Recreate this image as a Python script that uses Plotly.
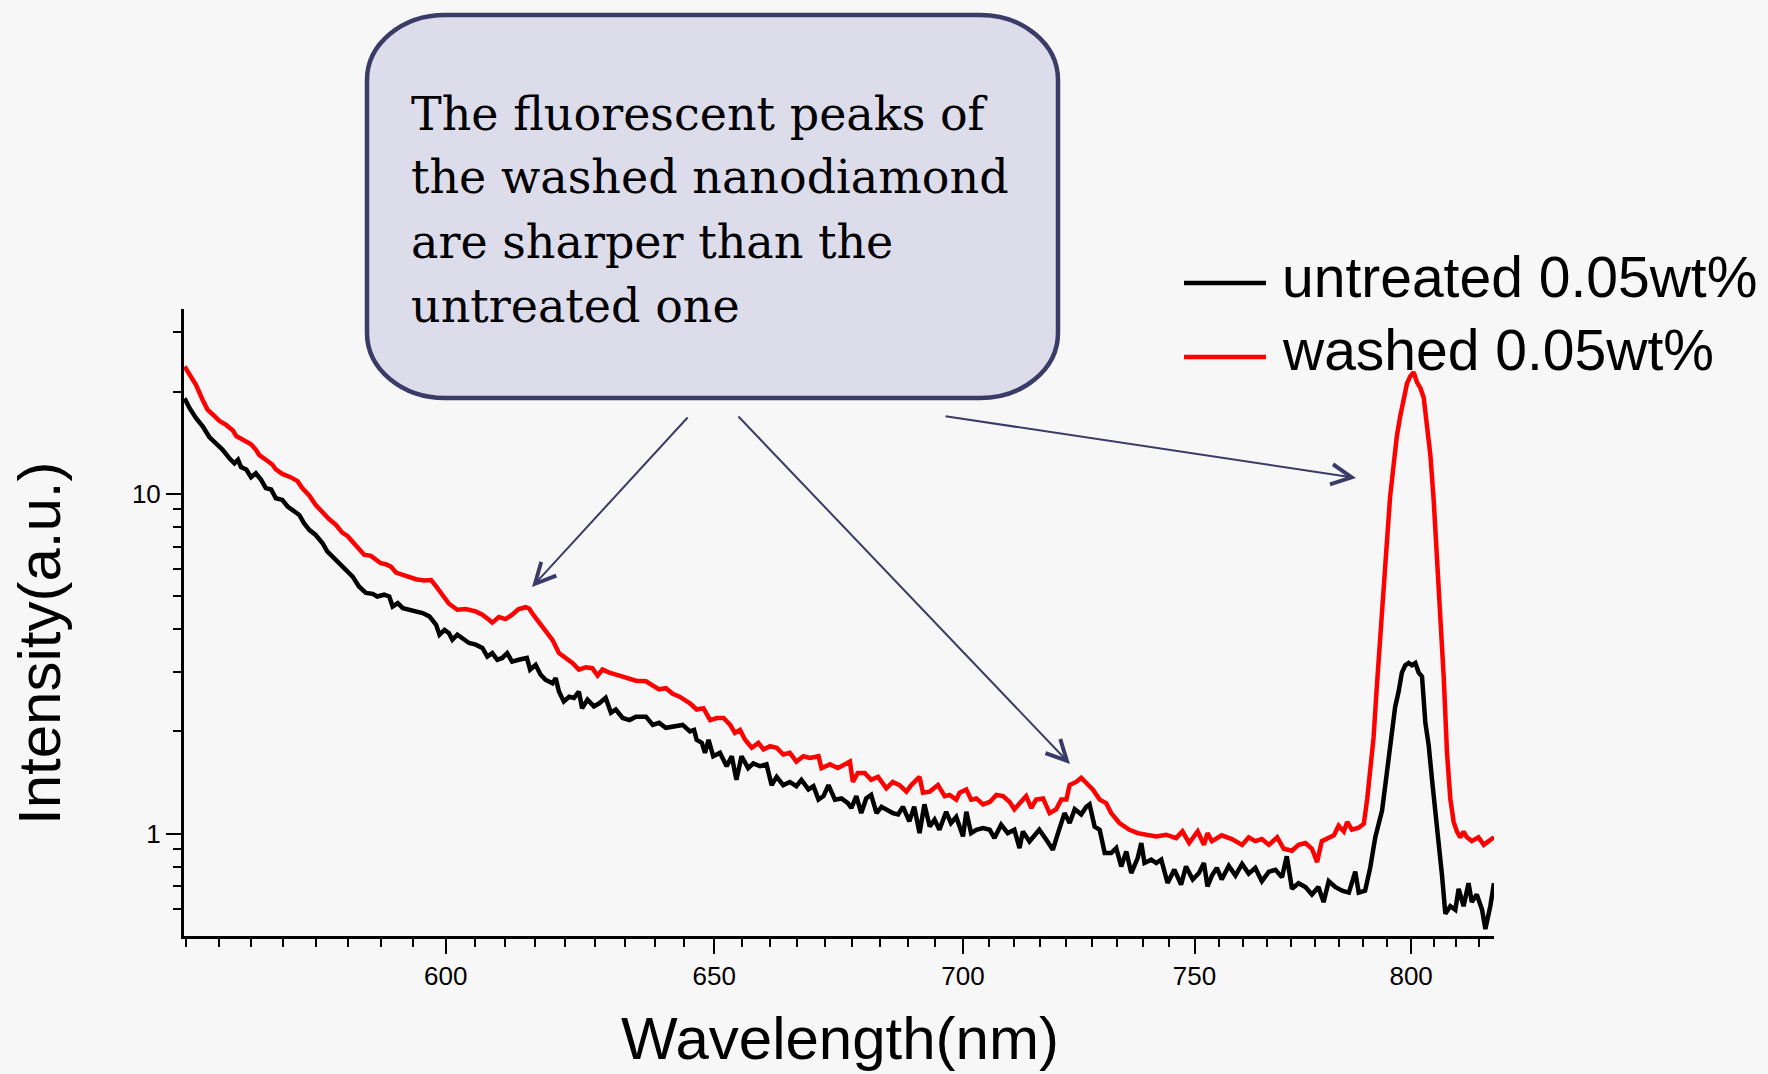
import math
import plotly.graph_objects as go

# ---------------- data ----------------
untreated_nm_a = [555.1, 555.9, 557.0, 558.1, 559.2, 560.3, 561.4, 562.6, 563.4, 564.0,
                  564.5, 565.4, 566.2, 567.0, 567.9, 568.7, 569.6, 570.4, 571.5, 572.4,
                  573.2, 574.4, 575.2, 576.1, 577.2, 578.4, 579.2, 580.1, 581.2, 582.4,
                  583.6, 584.7, 585.9, 587.1, 587.9, 589.1, 590.0, 590.6, 591.5, 592.4,
                  593.5, 594.7, 595.9, 597.1, 598.3, 598.9, 599.8, 600.6, 601.2, 602.1,
                  603.0, 604.2, 605.4, 606.6, 607.5, 608.4, 609.3, 610.2, 611.1, 612.0,
                  613.2, 614.7, 615.3, 616.3, 617.2, 618.1, 619.4, 620.0, 620.6, 621.5,
                  622.5, 623.4, 624.3, 624.9, 625.9, 627.1, 628.1, 629.3, 630.3, 631.2,
                  632.5, 633.8, 635.0, 636.9, 638.2, 639.4, 640.7, 642.0, 643.9]
untreated_int_a = [19.1, 17.9, 16.7, 15.8, 14.7, 14.1, 13.5, 12.7, 12.3, 12.6,
                   12.0, 11.8, 11.2, 11.5, 11.0, 10.4, 10.3, 9.71, 9.60, 9.18,
                   8.97, 8.67, 8.20, 7.84, 7.57, 7.16, 6.77, 6.54, 6.25, 5.98,
                   5.71, 5.34, 5.11, 5.08, 4.99, 5.05, 4.99, 4.66, 4.77, 4.61,
                   4.56, 4.51, 4.46, 4.36, 4.12, 3.85, 3.98, 3.89, 3.72, 3.85,
                   3.76, 3.64, 3.60, 3.52, 3.32, 3.40, 3.25, 3.29, 3.40, 3.21,
                   3.25, 3.29, 3.04, 3.14, 2.94, 2.84, 2.77, 2.87, 2.62, 2.45,
                   2.53, 2.51, 2.62, 2.34, 2.48, 2.37, 2.42, 2.51, 2.27, 2.32,
                   2.19, 2.16, 2.21, 2.21, 2.09, 2.12, 2.05, 2.07, 2.09]

untreated_nm_b = [645.3, 646.1, 646.6, 647.6, 648.2, 648.9, 649.8, 651.1, 652.4, 653.4,
                  654.3, 655.3, 656.6, 657.6, 658.9, 660.2, 661.2, 662.2, 663.5, 664.8,
                  666.1, 667.1, 668.5, 669.5, 670.5, 671.5, 672.5, 673.8, 675.1, 676.4,
                  677.1, 678.1, 679.1, 680.1, 681.1, 682.2, 683.2, 684.2, 685.5, 686.6,
                  687.6, 688.9, 689.9, 691.0, 692.0, 693.1, 694.1, 695.1, 696.5, 697.5,
                  698.6, 700.0, 700.7, 701.7, 702.8, 704.2, 705.6, 706.6, 708.0, 709.4,
                  710.8, 711.9, 712.6, 714.0, 715.0, 716.1, 717.6, 719.0, 720.1, 721.5,
                  722.6, 723.7, 725.1, 726.2, 726.9, 728.0, 729.1, 730.2, 731.6, 732.7,
                  733.8, 734.9, 736.0, 737.4, 738.2, 738.9, 740.4, 741.5, 742.6, 744.0,
                  745.5, 747.0, 748.1, 749.6, 751.0, 752.1, 752.9]
untreated_int_b = [2.00, 2.02, 1.89, 1.85, 1.73, 1.89, 1.69, 1.73, 1.58, 1.69,
                   1.44, 1.69, 1.56, 1.61, 1.58, 1.60, 1.39, 1.47, 1.39, 1.42,
                   1.38, 1.44, 1.35, 1.38, 1.26, 1.29, 1.39, 1.26, 1.27, 1.23,
                   1.19, 1.29, 1.15, 1.27, 1.30, 1.15, 1.20, 1.18, 1.15, 1.14,
                   1.20, 1.087, 1.20, 1.004, 1.22, 1.05, 1.10, 1.027, 1.16, 1.075,
                   1.12, 0.982, 1.16, 1.004, 1.027, 1.039, 1.027, 0.971, 1.063, 1.004,
                   1.027, 0.907, 1.016, 0.949, 0.982, 1.027, 0.96, 0.897, 1.004, 1.15,
                   1.075, 1.18, 1.14, 1.20, 1.22, 1.05, 1.027, 0.877, 0.877, 0.907,
                   0.801, 0.887, 0.766, 0.848, 0.939, 0.820, 0.839, 0.820, 0.839, 0.716,
                   0.784, 0.708, 0.801, 0.733, 0.766, 0.820, 0.700]

untreated_nm_c = [753.9, 755.0, 756.1, 757.7, 759.2, 760.7, 762.2, 763.7, 765.2, 766.8,
                  768.3, 769.8, 770.9, 772.1, 773.6, 775.2, 776.7, 778.2, 779.4, 780.6,
                  782.1, 783.7, 785.3, 786.8, 787.6, 789.1, 790.3, 791.5, 792.3, 793.1,
                  793.9, 794.6, 795.4, 796.2, 797.0, 797.8, 798.6, 799.4, 800.2, 801.0,
                  801.8, 802.6, 803.4, 804.2, 805.0, 805.8, 806.6, 807.4, 808.2, 809.4,
                  810.6, 811.4, 812.6, 813.8, 814.6, 815.8, 817.1, 817.9, 819.1, 820.0]
untreated_int_c = [0.753, 0.793, 0.734, 0.804, 0.753, 0.815, 0.763, 0.793, 0.725, 0.773,
                   0.783, 0.744, 0.858, 0.688, 0.715, 0.697, 0.662, 0.697, 0.629, 0.725,
                   0.697, 0.680, 0.671, 0.773, 0.671, 0.680, 0.793, 0.976, 1.055, 1.17,
                   1.40, 1.64, 2.02, 2.36, 2.61, 2.98, 3.13, 3.18, 3.13, 3.18,
                   2.98, 2.90, 2.12, 1.82, 1.44, 1.17, 0.927, 0.753, 0.581, 0.612,
                   0.597, 0.688, 0.612, 0.715, 0.629, 0.662, 0.597, 0.524, 0.612, 0.715]

washed_nm_a = [555.1, 555.9, 557.0, 558.1, 558.9, 559.8, 560.9, 562.0, 563.1, 563.7,
               564.8, 566.2, 567.0, 567.6, 568.7, 569.8, 570.4, 571.5, 572.9, 574.1,
               574.9, 576.1, 577.2, 578.4, 579.5, 580.7, 581.8, 582.7, 583.6, 584.7,
               585.6, 586.8, 587.6, 588.5, 589.4, 590.3, 591.2, 592.4, 593.5, 594.7,
               596.2, 597.4, 598.3, 599.5, 600.6, 602.1, 603.6, 605.4, 606.6, 607.8,
               608.4, 609.6, 610.8, 612.0, 613.2, 614.5, 615.1, 616.0, 616.6, 617.2,
               618.4, 619.4, 620.6, 621.8, 623.1, 624.3, 625.6, 626.8, 627.8, 628.7,
               630.0, 632.5, 635.0, 636.9, 638.2, 639.4, 640.7, 642.0, 643.3, 644.6]
washed_int_a = [23.7, 22.4, 20.9, 18.9, 17.7, 17.1, 16.4, 15.96, 15.4, 14.8,
                14.4, 14.0, 13.5, 13.0, 12.6, 12.2, 11.8, 11.45, 11.2, 10.9,
                10.4, 9.89, 9.28, 8.81, 8.43, 8.11, 7.69, 7.52, 7.24, 6.92,
                6.62, 6.57, 6.40, 6.25, 6.21, 6.11, 5.87, 5.78, 5.71, 5.61,
                5.56, 5.58, 5.34, 4.99, 4.75, 4.56, 4.58, 4.51, 4.41, 4.26,
                4.18, 4.34, 4.28, 4.41, 4.58, 4.64, 4.60, 4.38, 4.26, 4.12,
                3.94, 3.72, 3.40, 3.29, 3.18, 3.04, 3.09, 3.07, 2.92, 3.04,
                2.98, 2.90, 2.82, 2.81, 2.72, 2.66, 2.68, 2.58, 2.53, 2.45]

washed_nm_b = [645.3, 646.6, 647.9, 649.2, 650.5, 651.8, 653.1, 654.0, 655.0, 656.0,
               657.3, 658.6, 659.6, 660.9, 662.2, 663.5, 664.8, 666.1, 667.5, 668.8,
               670.5, 671.1, 672.8, 674.4, 676.1, 676.8, 677.4, 678.4, 679.8, 681.1,
               682.5, 684.2, 685.5, 686.9, 688.3, 689.3, 691.0, 691.7, 693.1, 694.8,
               696.2, 697.2, 698.6, 699.3, 700.7, 701.7, 702.8, 704.2, 705.6, 707.0,
               708.4, 709.8, 710.8, 711.9, 713.3, 714.4, 715.4, 716.9, 718.3, 719.7,
               720.8, 721.9, 722.6, 724.0, 725.1, 726.2, 727.6, 729.1, 730.5, 731.6,
               733.4, 735.6, 737.4, 739.3, 741.5, 743.7, 745.9, 747.3, 748.8, 750.7,
               752.1, 752.9]
washed_int_b = [2.42, 2.32, 2.34, 2.16, 2.19, 2.19, 2.09, 1.98, 2.02, 1.89,
                1.79, 1.85, 1.77, 1.81, 1.79, 1.71, 1.73, 1.63, 1.69, 1.67,
                1.69, 1.56, 1.60, 1.56, 1.60, 1.63, 1.42, 1.51, 1.51, 1.44,
                1.47, 1.36, 1.42, 1.39, 1.33, 1.39, 1.47, 1.32, 1.33, 1.39,
                1.29, 1.30, 1.26, 1.32, 1.35, 1.26, 1.27, 1.22, 1.24, 1.30,
                1.29, 1.24, 1.18, 1.23, 1.29, 1.19, 1.26, 1.27, 1.15, 1.18,
                1.26, 1.26, 1.39, 1.42, 1.46, 1.41, 1.35, 1.26, 1.23, 1.15,
                1.075, 1.027, 1.004, 0.993, 0.982, 0.993, 0.971, 1.016, 0.939, 1.016,
                0.928, 1.004]

washed_nm_c = [753.9, 756.1, 758.4, 760.7, 762.2, 763.7, 765.2, 766.8, 768.7, 770.2,
               772.1, 773.6, 775.2, 776.7, 777.9, 779.0, 780.6, 781.8, 782.9, 784.1,
               784.9, 786.0, 787.6, 788.8, 789.6, 790.3, 791.1, 791.9, 792.7, 793.5,
               794.3, 795.0, 795.8, 796.6, 797.4, 798.2, 799.0, 799.8, 800.6, 801.4,
               802.2, 803.0, 803.8, 804.6, 805.4, 806.2, 807.0, 807.8, 808.6, 809.4,
               810.2, 811.0, 811.8, 812.6, 813.4, 814.6, 816.2, 817.5, 818.7, 820.0]
washed_int_c = [0.951, 0.989, 0.964, 0.927, 0.976, 0.951, 0.964, 0.927, 0.976, 0.903,
                0.891, 0.927, 0.939, 0.903, 0.825, 0.951, 0.976, 0.989, 1.055, 1.015,
                1.083, 1.028, 1.041, 1.069, 1.265, 1.56, 1.92, 2.75, 3.96, 5.69,
                7.37, 9.80, 12.4, 14.8, 16.9, 19.2, 21.1, 22.2, 22.8, 21.3,
                20.5, 19.2, 15.6, 13.0, 9.55, 6.65, 4.62, 2.90, 1.73, 1.265,
                1.083, 1.015, 0.976, 1.015, 0.976, 0.951, 0.976, 0.927, 0.951, 0.976]

series_names = ["untreated 0.05wt%", "washed 0.05wt%"]
x_major_ticks = [600, 650, 700, 750, 800]
x_tick_labels = ["600", "650", "700", "750", "800"]
y_major_ticks = [1, 10]
y_tick_labels = ["1", "10"]
y_minor_ticks = [0.6, 0.7, 0.8, 0.9, 2, 3, 4, 5, 6, 7, 8, 9, 20, 30]
callout_lines = ["The fluorescent peaks of", "the washed nanodiamond",
                 "are sharper than the", "untreated one"]


def joined(parts_x, parts_y):
    xs, ys = [], []
    for a, b in zip(parts_x, parts_y):
        n = min(len(a), len(b))
        xs += a[:n]
        ys += b[:n]
    return xs, ys


untreated_nm, untreated_int = joined([untreated_nm_a, untreated_nm_b, untreated_nm_c],
                                     [untreated_int_a, untreated_int_b, untreated_int_c])
washed_nm, washed_int = joined([washed_nm_a, washed_nm_b, washed_nm_c],
                               [washed_int_a, washed_int_b, washed_int_c])

# ---------------- layout geometry ----------------
W, H = 1768, 1074
L, R, T, B = 184, 1494, 309, 936


def px(x):
    return (x - L) / (R - L)


def py(y):
    return (B - y) / (B - T)


BG = "#f7f7f7"
NAVY = "#3b3b68"
SANS = "Liberation Sans, Arial, sans-serif"

fig = go.Figure()
fig.add_trace(go.Scatter(x=untreated_nm, y=untreated_int, mode="lines",
                         line=dict(color="#000000", width=4.5), name=series_names[0],
                         showlegend=False))
fig.add_trace(go.Scatter(x=washed_nm, y=washed_int, mode="lines",
                         line=dict(color="#ff0000", width=4.5), name=series_names[1],
                         showlegend=False))

# minor x ticks: 8 per major interval, evenly spaced on the log scale
minor_x = []
majors = [550] + x_major_ticks + [850]
for a, b in zip(majors[:-1], majors[1:]):
    for k in range(1, 9):
        minor_x.append(a * (b / a) ** (k / 9))

fig.update_xaxes(type="log", range=[math.log10(555), math.log10(820)],
                 tickmode="array", tickvals=x_major_ticks, ticktext=x_tick_labels,
                 ticks="outside", ticklen=15, tickwidth=2, tickcolor="black",
                 showline=True, linewidth=3, linecolor="black",
                 showgrid=False, zeroline=False,
                 tickfont=dict(family=SANS, size=26, color="black"),
                 minor=dict(tickmode="array", tickvals=minor_x, ticks="outside",
                            ticklen=8, tickwidth=2, tickcolor="black", showgrid=False))
fig.update_yaxes(type="log", range=[math.log10(0.5), math.log10(35)],
                 tickmode="array", tickvals=y_major_ticks, ticktext=y_tick_labels,
                 ticks="outside", ticklen=15, tickwidth=2, tickcolor="black",
                 showline=True, linewidth=3, linecolor="black",
                 showgrid=False, zeroline=False,
                 tickfont=dict(family=SANS, size=26, color="black"),
                 minor=dict(tickmode="array", tickvals=y_minor_ticks, ticks="outside",
                            ticklen=8, tickwidth=2, tickcolor="black", showgrid=False))

# rounded callout box
x0, x1 = px(367), px(1058)
yt, yb = py(15), py(398)
rx, ry = 78 / (R - L), 65 / (B - T)
k = 0.5523
path = (f"M {x0+rx},{yt} L {x1-rx},{yt} "
        f"C {x1-rx+k*rx},{yt} {x1},{yt-ry+k*ry} {x1},{yt-ry} "
        f"L {x1},{yb+ry} "
        f"C {x1},{yb+ry-k*ry} {x1-rx+k*rx},{yb} {x1-rx},{yb} "
        f"L {x0+rx},{yb} "
        f"C {x0+rx-k*rx},{yb} {x0},{yb+ry-k*ry} {x0},{yb+ry} "
        f"L {x0},{yt-ry} "
        f"C {x0},{yt-ry+k*ry} {x0+rx-k*rx},{yt} {x0+rx},{yt} Z")
shapes = [dict(type="path", xref="paper", yref="paper", path=path,
               fillcolor="#dcdcea", line=dict(color=NAVY, width=4.5), layer="above")]

# legend samples
shapes.append(dict(type="line", xref="paper", yref="paper", x0=px(1184), x1=px(1266),
                   y0=py(283), y1=py(283), line=dict(color="#000000", width=4.5)))
shapes.append(dict(type="line", xref="paper", yref="paper", x0=px(1184), x1=px(1266),
                   y0=py(357), y1=py(357), line=dict(color="#ff0000", width=4.5)))

annotations = []
# callout text lines
for line, cy in zip(callout_lines, [114, 177, 242, 306]):
    annotations.append(dict(xref="paper", yref="paper", x=px(409), y=py(cy),
                            xanchor="left", yanchor="middle", showarrow=False,
                            text=line, font=dict(family="DejaVu Serif, serif", size=46,
                                                 color="#000000")))
# legend text
for name, cy in zip(series_names, [277, 350]):
    annotations.append(dict(xref="paper", yref="paper", x=px(1280), y=py(cy),
                            xanchor="left", yanchor="middle", showarrow=False,
                            text=name, font=dict(family=SANS, size=57, color="#000000")))
# arrows (head, tail) in pixels
arrows = [((532, 587), (689, 416)), ((1070, 764), (737, 415)), ((1356, 478), (944, 416))]
for (hx, hy), (tx, ty) in arrows:
    annotations.append(dict(xref="paper", yref="paper", x=px(hx), y=py(hy),
                            ax=tx - hx, ay=ty - hy, axref="pixel", ayref="pixel",
                            text="", showarrow=True, arrowhead=5, arrowsize=2,
                            arrowwidth=2, arrowcolor=NAVY, standoff=0))
# axis titles
annotations.append(dict(xref="paper", yref="paper", x=px(840), y=py(1038),
                        xanchor="center", yanchor="middle", showarrow=False,
                        text="Wavelength(nm)", font=dict(family=SANS, size=60, color="#000000")))
annotations.append(dict(xref="paper", yref="paper", x=px(39), y=py(643),
                        xanchor="center", yanchor="middle", showarrow=False, textangle=-90,
                        text="Intensity(a.u.)", font=dict(family=SANS, size=60, color="#000000")))

fig.update_layout(width=W, height=H, autosize=False,
                  margin=dict(l=L, r=W - R, t=T, b=H - B, pad=0),
                  paper_bgcolor=BG, plot_bgcolor=BG,
                  showlegend=False, shapes=shapes, annotations=annotations)

fig.write_html("out.html")
